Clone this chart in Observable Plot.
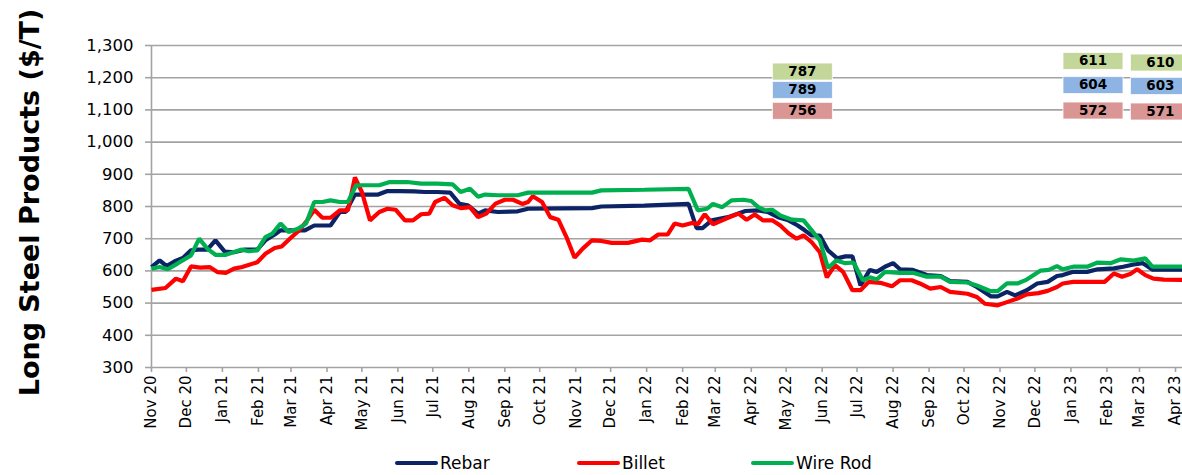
<!DOCTYPE html>
<html>
<head>
<meta charset="utf-8">
<script src="https://cdn.jsdelivr.net/npm/d3@7"></script>
<script src="https://cdn.jsdelivr.net/npm/@observablehq/plot@0.6"></script>
<style>
  html, body { margin: 0; padding: 0; background: #fff; width: 1182px; height: 475px; overflow: hidden; }
  #legend { position: relative; height: 30px; font-family: "DejaVu Sans", sans-serif; font-size: 17px; color: #000; }
  .item { position: absolute; top: 8px; display: flex; align-items: center; white-space: nowrap; }
  .sw { display: inline-block; width: 43px; height: 4px; border-radius: 2px; margin-right: 2px; }
</style>
</head>
<body>
<div id="chart"></div>
<div id="legend"></div>
<script>
// ---------- DATA ----------
const seriesNames = ["Rebar", "Billet", "Wire Rod"];
const seriesColors = ["#0c2465", "#ff0000", "#00b050"];

const rebarDates = ["2020-11-01","2020-11-08","2020-11-14","2020-11-21","2020-11-28","2020-12-05","2020-12-11","2020-12-19","2020-12-26","2021-01-03","2021-01-11","2021-01-20","2021-01-31","2021-02-07","2021-02-15","2021-02-20","2021-02-28","2021-03-13","2021-03-21","2021-03-28","2021-04-04","2021-04-12","2021-04-17","2021-04-25","2021-05-03","2021-05-15","2021-05-23","2021-06-03","2021-06-15","2021-06-24","2021-07-05","2021-07-16","2021-07-24","2021-07-31","2021-08-09","2021-08-15","2021-08-26","2021-09-12","2021-09-21","2021-11-15","2021-11-23","2021-12-30","2022-02-06","2022-02-13","2022-02-18","2022-02-26","2022-03-12","2022-03-27","2022-04-07","2022-04-15","2022-04-24","2022-05-03","2022-05-11","2022-05-17","2022-05-23","2022-05-30","2022-06-06","2022-06-14","2022-06-21","2022-06-27","2022-07-04","2022-07-12","2022-07-18","2022-07-25","2022-08-01","2022-08-07","2022-08-18","2022-08-30","2022-09-11","2022-09-19","2022-10-04","2022-10-12","2022-10-24","2022-10-30","2022-11-07","2022-11-14","2022-11-24","2022-12-03","2022-12-12","2022-12-20","2022-12-25","2023-01-03","2023-01-15","2023-01-24","2023-02-07","2023-02-15","2023-02-24","2023-03-04","2023-03-12","2023-04-07"];
const rebarValues = [612,633,615,630,640,664,666,666,695,660,658,666,666,695,713,726,726,726,741,741,741,783,783,837,837,837,848,848,847,845,845,843,808,804,778,788,783,785,793,795,800,803,808,733,733,757,767,786,788,783,767,757,741,726,710,710,664,639,645,645,555,603,597,613,624,605,603,587,584,568,566,550,521,521,535,524,540,561,566,584,587,597,597,605,608,613,620,624,604,604];

const billetDates = ["2020-11-01","2020-11-13","2020-11-22","2020-11-28","2020-12-05","2020-12-13","2020-12-21","2020-12-28","2021-01-04","2021-01-11","2021-01-18","2021-01-31","2021-02-07","2021-02-15","2021-02-21","2021-02-28","2021-03-08","2021-03-14","2021-03-21","2021-03-28","2021-04-04","2021-04-12","2021-04-19","2021-04-25","2021-05-01","2021-05-08","2021-05-16","2021-05-23","2021-05-30","2021-06-07","2021-06-14","2021-06-21","2021-06-28","2021-07-03","2021-07-11","2021-07-18","2021-07-25","2021-08-02","2021-08-09","2021-08-16","2021-08-24","2021-09-01","2021-09-08","2021-09-16","2021-09-21","2021-09-25","2021-10-03","2021-10-10","2021-10-17","2021-10-24","2021-10-31","2021-11-07","2021-11-15","2021-11-23","2021-12-02","2021-12-16","2021-12-28","2022-01-04","2022-01-11","2022-01-19","2022-01-25","2022-02-01","2022-02-09","2022-02-14","2022-02-20","2022-02-27","2022-03-07","2022-03-12","2022-03-21","2022-03-28","2022-04-04","2022-04-11","2022-04-19","2022-04-26","2022-05-03","2022-05-10","2022-05-16","2022-05-23","2022-05-30","2022-06-05","2022-06-12","2022-06-19","2022-06-27","2022-07-04","2022-07-11","2022-07-21","2022-07-31","2022-08-07","2022-08-17","2022-08-24","2022-09-02","2022-09-11","2022-09-19","2022-10-04","2022-10-12","2022-10-19","2022-10-30","2022-11-07","2022-11-16","2022-11-24","2022-12-04","2022-12-12","2022-12-20","2022-12-25","2023-01-03","2023-01-30","2023-02-07","2023-02-14","2023-02-21","2023-02-27","2023-03-06","2023-03-13","2023-03-22","2023-04-07"];
const billetValues = [541,547,576,568,614,610,612,596,594,607,612,627,653,671,676,700,726,752,790,765,765,788,788,890,845,757,783,793,790,757,757,776,778,814,827,804,795,798,767,778,809,821,821,808,814,832,814,767,759,705,641,669,695,693,687,687,697,695,713,713,747,741,749,745,776,745,757,765,778,759,775,757,757,741,717,700,710,689,658,580,618,597,540,540,566,563,552,571,571,561,545,550,535,529,519,498,493,503,514,527,531,538,550,561,566,566,592,582,590,605,587,576,573,572];

const wireDates = ["2020-11-01","2020-11-08","2020-11-15","2020-11-23","2020-12-05","2020-12-12","2020-12-19","2020-12-26","2021-01-04","2021-01-17","2021-01-24","2021-01-31","2021-02-07","2021-02-13","2021-02-20","2021-02-27","2021-03-07","2021-03-14","2021-03-21","2021-03-28","2021-04-04","2021-04-12","2021-04-19","2021-04-26","2021-05-06","2021-05-16","2021-05-25","2021-06-09","2021-06-21","2021-07-05","2021-07-18","2021-07-25","2021-08-02","2021-08-09","2021-08-15","2021-08-26","2021-09-12","2021-09-21","2021-11-15","2021-11-23","2021-12-30","2022-02-06","2022-02-14","2022-02-22","2022-02-27","2022-03-07","2022-03-15","2022-03-25","2022-04-01","2022-04-07","2022-04-13","2022-04-19","2022-04-26","2022-05-06","2022-05-16","2022-05-23","2022-05-30","2022-06-06","2022-06-13","2022-06-21","2022-06-28","2022-07-06","2022-07-12","2022-07-18","2022-07-25","2022-08-07","2022-08-18","2022-08-30","2022-09-11","2022-09-19","2022-10-04","2022-10-12","2022-10-24","2022-10-30","2022-11-07","2022-11-16","2022-11-24","2022-12-06","2022-12-13","2022-12-20","2022-12-25","2023-01-03","2023-01-15","2023-01-24","2023-02-04","2023-02-13","2023-02-24","2023-03-06","2023-03-12","2023-04-07"];
const wireValues = [607,612,605,622,648,700,669,650,650,666,661,664,705,716,747,721,731,747,814,814,819,814,814,866,866,866,876,876,871,871,869,845,855,830,837,835,835,843,843,850,852,855,788,793,808,798,819,821,817,798,788,790,772,759,757,726,695,609,632,624,626,571,580,573,597,594,594,582,582,566,564,555,537,537,561,561,573,601,603,615,605,613,613,626,624,636,632,639,613,613];

const yTicks = [300,400,500,600,700,800,900,1000,1100,1200,1300];
const xStart = "2020-11-01", xEnd = "2023-04-07";

// value-label boxes (annotations)
const labelTexts  = [787, 789, 756, 611, 604, 572, 610, 603, 571];
const labelSeries = ["Wire Rod","Rebar","Billet","Wire Rod","Rebar","Billet","Wire Rod","Rebar","Billet"];
const labelDates  = ["2022-05-15","2022-05-15","2022-05-15","2023-01-20","2023-01-20","2023-01-20","2023-03-19","2023-03-19","2023-03-19"];
const labelLevels = [1219, 1162, 1097, 1252, 1177, 1098, 1247, 1174, 1095];
const boxFills = {"Wire Rod": "#c4d79b", "Rebar": "#8db4e2", "Billet": "#da9694"};

// ---------- BUILD ----------
const parse = d3.utcParse("%Y-%m-%d");
const toRows = (dates, vals, name) => dates.map((d, i) => ({date: parse(d), value: vals[i], series: name}));
const rows = [
  ...toRows(rebarDates, rebarValues, "Rebar"),
  ...toRows(billetDates, billetValues, "Billet"),
  ...toRows(wireDates, wireValues, "Wire Rod")
];
const labels = labelTexts.map((t, i) => ({text: String(t), series: labelSeries[i], date: parse(labelDates[i]), y: labelLevels[i]}));
const monthTicks = d3.utcMonth.range(parse(xStart), d3.utcDay.offset(parse(xEnd), 1));

const boxSymbol = {
  draw(ctx) {
    ctx.moveTo(-30, -8.5); ctx.lineTo(30, -8.5); ctx.lineTo(30, 8.5); ctx.lineTo(-30, 8.5); ctx.closePath();
  }
};

const grid = "#a3a3a3";
const chart = Plot.plot({
  width: 1182,
  height: 445,
  marginLeft: 151,
  marginRight: 0,
  marginTop: 45,
  marginBottom: 78,
  style: {fontFamily: "DejaVu Sans, sans-serif", background: "#fff", color: "#000", overflow: "visible"},
  x: {type: "utc", domain: [parse(xStart), parse(xEnd)]},
  y: {domain: [300, 1300]},
  color: {domain: seriesNames, range: seriesColors},
  marks: [
    Plot.gridY(yTicks, {stroke: grid, strokeOpacity: 1, strokeWidth: 1.6}),
    Plot.ruleX([parse(xStart)], {stroke: grid, strokeWidth: 1.6}),
    Plot.axisY(yTicks, {tickFormat: d3.format(","), tickSize: 6, tickPadding: 12, fontSize: 16.5, stroke: grid, strokeWidth: 1.6, label: null}),
    Plot.axisX(monthTicks, {tickFormat: d3.utcFormat("%b %y"), tickRotate: -90, tickSize: 5, tickPadding: 3, fontSize: 15, stroke: grid, strokeWidth: 1.6, label: null}),
    Plot.text(["Long Steel Products ($/T)"], {frameAnchor: "left", textAnchor: "middle", rotate: -90, dx: -121, dy: -4, fontSize: 27, fontWeight: "bold", fill: "#000"}),
    Plot.line(rows, {x: "date", y: "value", z: "series", stroke: "series", strokeWidth: 4.2, strokeLinejoin: "miter", strokeLinecap: "butt", curve: "linear"}),
    Plot.dot(labels, {x: "date", y: "y", symbol: boxSymbol, r: 5, fill: d => boxFills[d.series], stroke: "#fff", strokeWidth: 0.8}),
    Plot.text(labels, {x: "date", y: "y", text: "text", fontSize: 13.5, fontWeight: "bold", fill: "#000"})
  ]
});
document.getElementById("chart").appendChild(chart);

// legend
const lefts = [395, 577, 751];
const legend = document.getElementById("legend");
seriesNames.forEach((n, i) => {
  const it = document.createElement("div");
  it.className = "item";
  it.style.left = lefts[i] + "px";
  it.innerHTML = `<span class="sw" style="background:${seriesColors[i]}"></span><span>${n}</span>`;
  legend.appendChild(it);
});
</script>
</body>
</html>
